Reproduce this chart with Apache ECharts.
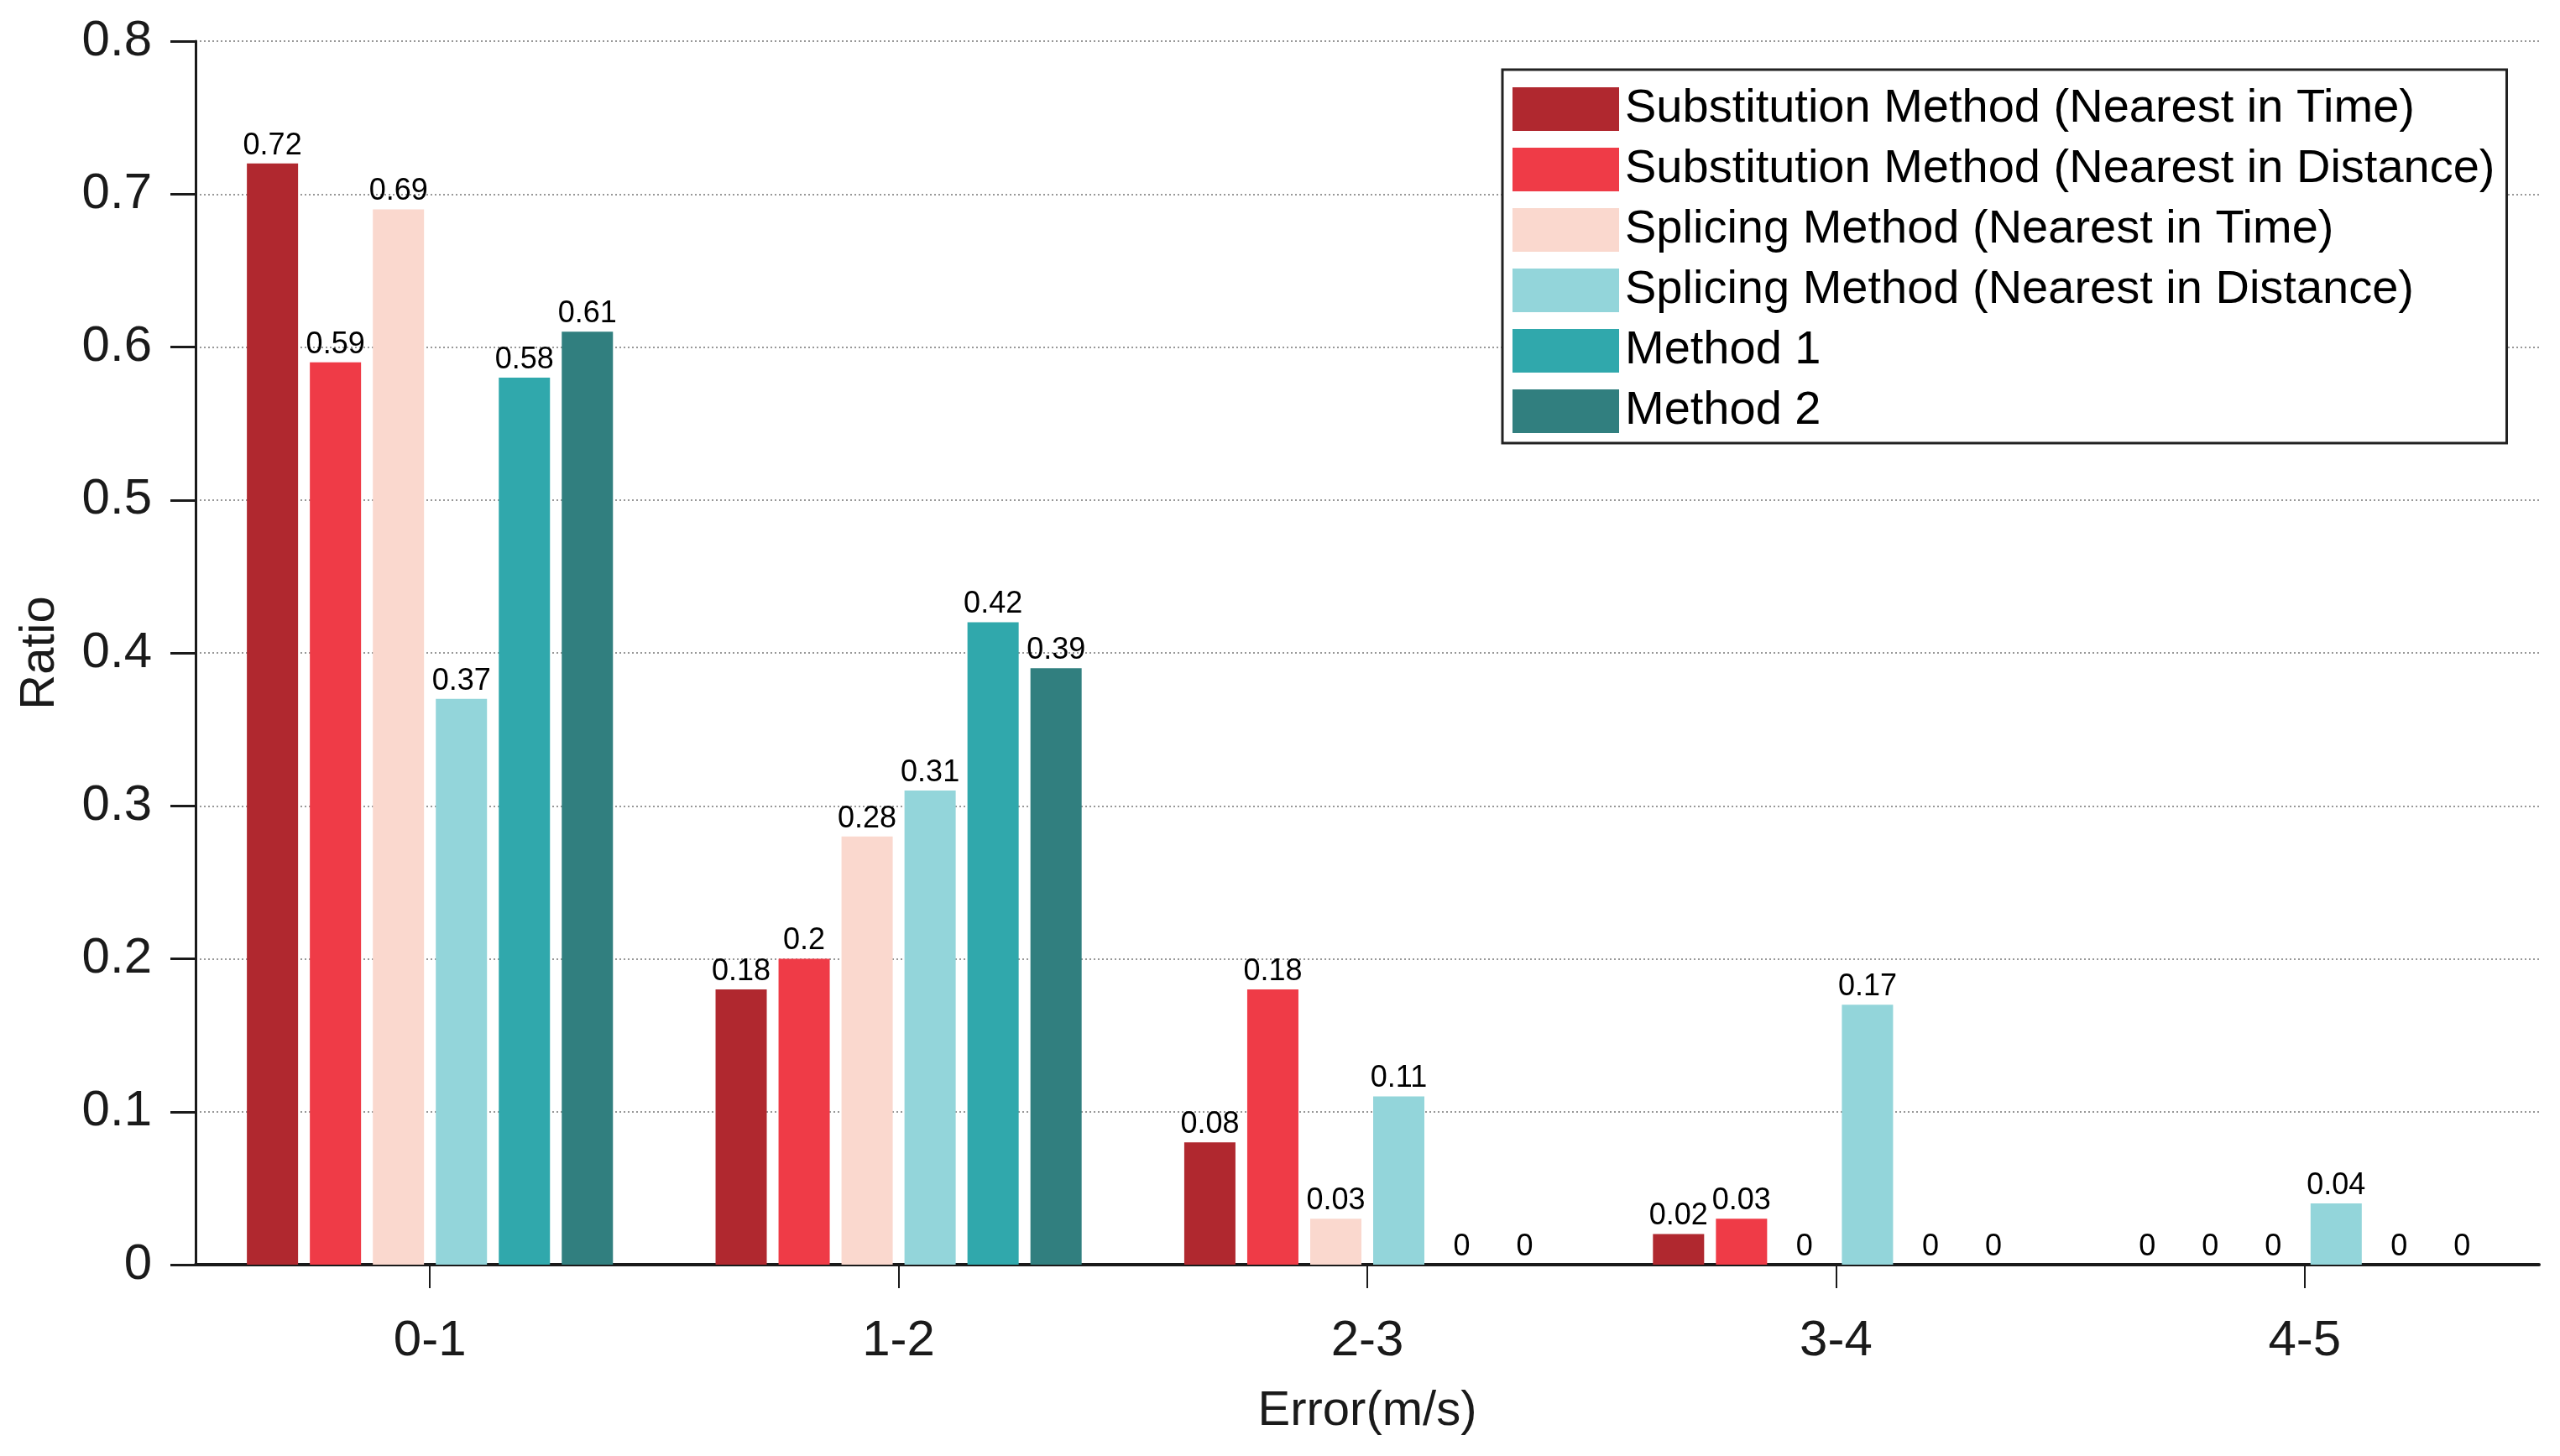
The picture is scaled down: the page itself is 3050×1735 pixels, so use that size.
<!DOCTYPE html>
<html><head><meta charset="utf-8">
<script src="https://cdn.jsdelivr.net/npm/echarts@6/dist/echarts.min.js"></script>
<style>html,body{margin:0;padding:0;background:#fff}#c{width:3050px;height:1735px}</style>
</head><body><div id="c"></div>
<script>
const categories = ['0-1', '1-2', '2-3', '3-4', '4-5'];
const seriesNames = [
  'Substitution Method (Nearest in Time)',
  'Substitution Method (Nearest in Distance)',
  'Splicing Method (Nearest in Time)',
  'Splicing Method (Nearest in Distance)',
  'Method 1',
  'Method 2'
];
const subTime = [0.72, 0.18, 0.08, 0.02, 0];
const subDist = [0.59, 0.2, 0.18, 0.03, 0];
const splTime = [0.69, 0.28, 0.03, 0, 0];
const splDist = [0.37, 0.31, 0.11, 0.17, 0.04];
const method1 = [0.58, 0.42, 0, 0, 0];
const method2 = [0.61, 0.39, 0, 0, 0];
const colors = ['#B0282F', '#EF3B47', '#FAD8CE', '#93D5DA', '#30A8AC', '#317F7F'];
const yTicks = [0, 0.1, 0.2, 0.3, 0.4, 0.5, 0.6, 0.7, 0.8];

const FONT = "'Liberation Sans', Arial, sans-serif";
const allData = [subTime, subDist, splTime, splDist, method1, method2];

const chart = echarts.init(document.getElementById('c'), null, {renderer: 'canvas'});
chart.setOption({
  animation: false,
  backgroundColor: '#fff',
  textStyle: {fontFamily: FONT},
  grid: {left: 233, right: 25, top: 49, bottom: 228, containLabel: false},
  legend: {
    orient: 'vertical',
    left: 1790, top: 83,
    itemWidth: 127, itemHeight: 52, itemGap: 16,
    icon: 'rect',
    padding: [19, 14, 10, 12],
    borderColor: '#222', borderWidth: 3,
    backgroundColor: '#fff',
    textStyle: {fontSize: 56, color: '#000', fontFamily: FONT, lineHeight: 52, padding: [0, 0, 0, 2]},
    data: seriesNames
  },
  xAxis: {
    type: 'category',
    data: categories,
    name: 'Error(m/s)',
    nameLocation: 'middle',
    nameGap: 146,
    nameTextStyle: {fontSize: 58, color: '#1a1a1a', fontFamily: FONT},
    axisLine: {show: true, lineStyle: {color: '#1a1a1a', width: 4}},
    axisTick: {show: true, alignWithLabel: true, length: 28, lineStyle: {color: '#1a1a1a', width: 2}},
    axisLabel: {fontSize: 60, color: '#1a1a1a', margin: 61, fontFamily: FONT},
    splitLine: {show: false}
  },
  yAxis: {
    type: 'value',
    min: 0, max: 0.8, interval: 0.1,
    name: 'Ratio',
    nameLocation: 'middle',
    nameRotate: 90,
    nameGap: 156,
    nameTextStyle: {fontSize: 58, color: '#1a1a1a', fontFamily: FONT},
    axisLine: {show: true, lineStyle: {color: '#1a1a1a', width: 3}},
    axisTick: {show: true, length: 30, lineStyle: {color: '#1a1a1a', width: 3}},
    axisLabel: {fontSize: 60, color: '#1a1a1a', margin: 52, fontFamily: FONT,
      formatter: v => { const t = yTicks.find(x => Math.abs(x - v) < 1e-9); return t === undefined ? '' : String(t); }},
    splitLine: {show: true, lineStyle: {color: '#777', width: 1.5, type: [2, 3]}}
  },
  series: seriesNames.map((n, i) => ({
    name: n,
    type: 'bar',
    data: allData[i],
    barWidth: 61,
    barGap: '23%',
    itemStyle: {color: colors[i]},
    label: {show: true, position: 'top', distance: 3, fontSize: 36, color: '#000', fontFamily: FONT,
      formatter: p => String(p.value)}
  }))
});
</script></body></html>
